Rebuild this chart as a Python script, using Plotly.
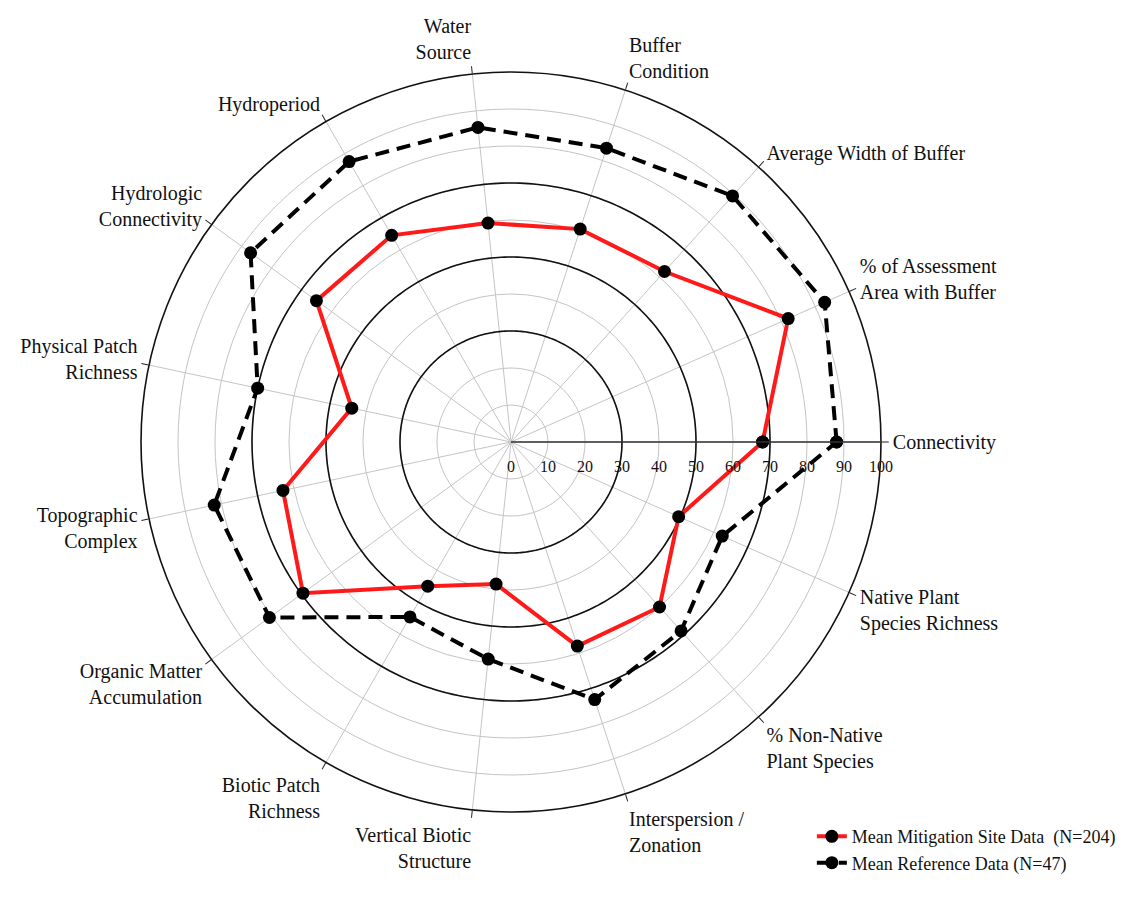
import numpy as np
import plotly.graph_objects as go

categories = [
    "Connectivity",
    "% of Assessment<br>Area with Buffer",
    "Average Width of Buffer",
    "Buffer<br>Condition",
    "Water<br>Source",
    "Hydroperiod",
    "Hydrologic<br>Connectivity",
    "Physical Patch<br>Richness",
    "Topographic<br>Complex",
    "Organic Matter<br>Accumulation",
    "Biotic Patch<br>Richness",
    "Vertical Biotic<br>Structure",
    "Interspersion /<br>Zonation",
    "% Non-Native<br>Plant Species",
    "Native Plant<br>Species Richness",
]
mitigation = [68, 82, 62, 60.5, 59.5, 64.5, 65, 44, 63, 69.5, 45, 38.6, 58, 60, 49.6]
reference = [88, 92.8, 89.5, 83.5, 85.5, 87.5, 87, 70, 82, 80.7, 54.6, 59, 73.2, 68.7, 62.5]
radial_ticks = [0, 10, 20, 30, 40, 50, 60, 70, 80, 90, 100]
dark_rings = [30, 50, 70]

n = len(categories)
step = 360 / n
theta = [i * step for i in range(n)]
theta_closed = theta + [theta[0] + 360]

FONT = "Liberation Serif, Times New Roman, serif"

fig = go.Figure()

ring_theta = np.linspace(0, 360, 361)
for rv in dark_rings:
    fig.add_trace(go.Scatterpolar(
        r=[rv] * len(ring_theta), theta=ring_theta, mode="lines",
        line=dict(color="#111111", width=1.6), hoverinfo="skip", showlegend=False,
    ))

fig.add_trace(go.Scatterpolar(
    r=mitigation + [mitigation[0]], theta=theta_closed, mode="lines+markers",
    name="Mean Mitigation Site Data  (N=204)",
    line=dict(color="#ff1a1a", width=4),
    marker=dict(color="black", size=13),
))
fig.add_trace(go.Scatterpolar(
    r=reference + [reference[0]], theta=theta_closed, mode="lines+markers",
    name="Mean Reference Data (N=47)",
    line=dict(color="black", width=4, dash="14px,8px"),
    marker=dict(color="black", size=13),
))

fig.update_layout(
    width=1126, height=903,
    margin=dict(l=0, r=0, t=0, b=0),
    paper_bgcolor="white",
    font=dict(family=FONT, color="#111111"),
    polar=dict(
        domain=dict(x=[141 / 1126, 881 / 1126], y=[1 - 812 / 903, 1 - 72 / 903]),
        bgcolor="white",
        radialaxis=dict(
            range=[0, 100], tickvals=radial_ticks, angle=0, tickangle=0,
            showline=True, linecolor="#333333", linewidth=1.5,
            gridcolor="#c4c4c4", gridwidth=1.2,
            ticks="outside", ticklen=10, tickcolor="rgba(0,0,0,0)",
            tickfont=dict(family=FONT, size=16, color="#111111"),
        ),
        angularaxis=dict(
            tickmode="array", tickvals=theta, ticktext=categories,
            rotation=0, direction="counterclockwise",
            showline=True, linecolor="#111111", linewidth=1.6,
            gridcolor="#c4c4c4", gridwidth=1.2,
            ticks="outside", ticklen=7, tickcolor="#222222",
            tickfont=dict(family=FONT, size=20, color="#111111"),
        ),
    ),
    legend=dict(
        x=0.721, y=0.094, xanchor="left", yanchor="top",
        font=dict(family=FONT, size=18, color="#111111"),
        bgcolor="rgba(0,0,0,0)", tracegroupgap=0,
    ),
)

fig.write_html("out.html")
